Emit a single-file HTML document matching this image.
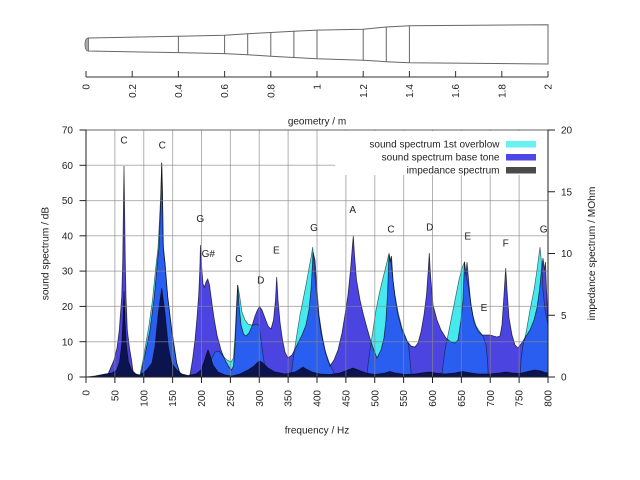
<!DOCTYPE html>
<html><head><meta charset="utf-8"><style>
html,body{margin:0;padding:0;background:#fff;}
svg{display:block;font-family:"Liberation Sans",Arial,sans-serif;}
</style></head><body>
<svg width="640" height="480" viewBox="0 0 640 480" xmlns="http://www.w3.org/2000/svg">
<rect width="640" height="480" fill="#fff"/>
<!-- geometry -->
<path d="M88,38 L178.4,36.2 L224.6,35.3 L247.7,33.7 L270.8,32.5 L293.9,31.3 L317,30.1 L363.2,29.2 L386.3,27 L409.4,25.7 L548,24.7 L548,64 L409.4,62.7 L386.3,61.7 L363.2,60.2 L317,58.8 L293.9,57.5 L270.8,56.2 L247.7,54.8 L224.6,53.6 L178.4,52.6 L88,51 Z" fill="#fff" stroke="#666" stroke-width="1"/>
<path d="M88.5,38 L86.5,38.8 Q85,40.5 85,44.5 Q85,48.5 86.5,50.2 L88.5,51 Z" fill="#aaa" stroke="#666" stroke-width="0.8"/>
<g stroke="#666" stroke-width="1">
<line x1="178.4" y1="36.2" x2="178.4" y2="52.6"/><line x1="224.6" y1="35.3" x2="224.6" y2="53.6"/>
<line x1="247.7" y1="33.7" x2="247.7" y2="54.8"/><line x1="270.8" y1="32.5" x2="270.8" y2="56.2"/>
<line x1="293.9" y1="31.3" x2="293.9" y2="57.5"/><line x1="317" y1="30.1" x2="317" y2="58.8"/>
<line x1="363.2" y1="29.2" x2="363.2" y2="60.2"/><line x1="386.3" y1="27" x2="386.3" y2="61.7"/>
<line x1="409.4" y1="25.7" x2="409.4" y2="62.7"/>
</g>
<g stroke="#333" stroke-width="1">
<line x1="86" y1="77" x2="548" y2="77"/>
<line x1="86" y1="71" x2="86" y2="77"/><line x1="132.2" y1="71" x2="132.2" y2="77"/><line x1="178.4" y1="71" x2="178.4" y2="77"/><line x1="224.6" y1="71" x2="224.6" y2="77"/><line x1="270.8" y1="71" x2="270.8" y2="77"/><line x1="317" y1="71" x2="317" y2="77"/><line x1="363.2" y1="71" x2="363.2" y2="77"/><line x1="409.4" y1="71" x2="409.4" y2="77"/><line x1="455.6" y1="71" x2="455.6" y2="77"/><line x1="501.8" y1="71" x2="501.8" y2="77"/><line x1="548" y1="71" x2="548" y2="77"/>
</g>
<g font-size="10" fill="#222" text-anchor="end">
<text transform="translate(89.6,84) rotate(-90)">0</text>
<text transform="translate(135.8,84) rotate(-90)">0.2</text>
<text transform="translate(182,84) rotate(-90)">0.4</text>
<text transform="translate(228.2,84) rotate(-90)">0.6</text>
<text transform="translate(274.4,84) rotate(-90)">0.8</text>
<text transform="translate(320.6,84) rotate(-90)">1</text>
<text transform="translate(366.8,84) rotate(-90)">1.2</text>
<text transform="translate(413,84) rotate(-90)">1.4</text>
<text transform="translate(459.2,84) rotate(-90)">1.6</text>
<text transform="translate(505.4,84) rotate(-90)">1.8</text>
<text transform="translate(551.6,84) rotate(-90)">2</text>
</g>
<text x="317" y="124.6" font-size="10" fill="#222" text-anchor="middle">geometry / m</text>

<defs>
<path id="Bd" d="M86,377 L108,377 L108.3,373.3 L114,360 L117,348 L119.3,330 L121.7,297 L122.7,263 L124,166 L125.3,263 L126,297 L127.3,330 L129.5,348 L131.5,360 L133.3,373.3 L134,377 L140,377 L141.5,372 L143.3,363 L150,330 L154.3,296.7 L157.3,263.3 L159,246.7 L161,195 L161.7,162.5 L162.5,195 L163.3,246.7 L165,263.3 L167.7,296.7 L171.7,330 L176.7,363 L179.5,372 L181.5,377 L189.5,377 L190.5,372 L192.5,360 L195,340 L197,318 L198.7,295 L199.8,270 L200.5,245 L201.5,265 L203,284 L204.5,287 L206,282 L207.7,279 L209.5,285 L211.5,300 L214,318 L217,335 L221,350 L225,360 L229,367 L231.5,370 L233.5,366 L235,345 L236.5,315 L237.7,285 L239,305 L241,325 L243.5,334 L246,336 L249,333 L252,326 L255,316 L257,311 L259.5,306.5 L262,310 L265,318 L268,326 L271,329 L273.5,320 L275.5,300 L276.7,277 L278,300 L280,322 L282.5,340 L285,352 L288,358 L292,355 L297,345 L302,335 L306,325 L309,310 L311,290 L312.5,265 L313,252 L315,260 L317,290 L319,315 L322,335 L326,355 L330,366 L334,360 L338,350 L342,333 L345,315 L348,295 L350.5,270 L352.5,245 L353.3,236 L354.5,255 L356.5,280 L360,300 L363.5,315 L367,328 L371,342 L375,353 L377,358 L381,350 L384,338 L386,320 L387.5,295 L389,255 L390.3,262 L391.5,256 L393,280 L395,297 L398,315 L402,330 L407,341 L411,346 L415,347 L418,343 L421,332 L424,315 L426.5,295 L428.3,270 L429.3,253 L430.5,275 L433,305 L437,320 L441,330 L446,338 L451,342 L455,343 L458,340 L461,320 L463,300 L464.5,262 L466,275 L467,262 L469,285 L471,305 L474,322 L478,331 L482,335 L490,335 L497,337 L500,336 L502,325 L504,295 L505.7,268 L507,290 L509,318 L512,335 L515,345 L518,348 L521,344 L525,338 L530,330 L534,320 L537,308 L539.5,290 L541.5,270 L543,258 L544.5,270 L545.5,262 L546.5,290 L548,325 L548,377 Z"/>
<path id="Od" d="M139.5,377 L141,370 L143,360 L149,325 L152.5,300 L155.5,270 L158,248 L160.5,200 L161.7,163 L162.5,195 L163.3,246.7 L165,263.3 L167.7,296.7 L171.7,330 L176.7,363 L179.5,372 L181.5,377 Z
M204,377 L207,371 L211,360 L215,352 L219,351 L223,356 L227,360 L231,362 L233.5,358 L235,335 L236.5,305 L237.7,285 L239.5,295 L242,312 L245,320 L248,324 L251,325 L254,325 L257,324 L259,326 L261,340 L263,355 L265,368 L267,377 Z
M291,377 L293,360 L296,340 L300,315 L303,300 L306,285 L309,268 L311.5,255 L312.7,247 L314,262 L316,290 L318,312 L321,333 L325,350 L329,362 L333,371 L336,377 Z
M366.7,377 L368,365 L370,350 L373,330 L376,310 L379,295 L382,282 L385,270 L387.5,260 L389,253 L391,262 L393,280 L395,295 L398,312 L402,328 L406,338 L408.5,345 L410,360 L411.5,377 Z
M441.7,377 L443,365 L445,350 L447,340 L451,320 L455,300 L459,280 L462,268 L464.5,262 L466,275 L468,285 L470,298 L473,316 L476,326 L480,332 L483,336 L486,345 L487.5,360 L488.3,377 Z
M520,377 L521,360 L523,345 L526,333 L530,310 L534,290 L537,270 L540,247 L541.5,262 L543,290 L545,310 L548,326 L548,377 Z"/>
<clipPath id="cb"><path d="M86,377 L108,377 L108.3,373.3 L114,360 L117,348 L119.3,330 L121.7,297 L122.7,263 L124,166 L125.3,263 L126,297 L127.3,330 L129.5,348 L131.5,360 L133.3,373.3 L134,377 L140,377 L141.5,372 L143.3,363 L150,330 L154.3,296.7 L157.3,263.3 L159,246.7 L161,195 L161.7,162.5 L162.5,195 L163.3,246.7 L165,263.3 L167.7,296.7 L171.7,330 L176.7,363 L179.5,372 L181.5,377 L189.5,377 L190.5,372 L192.5,360 L195,340 L197,318 L198.7,295 L199.8,270 L200.5,245 L201.5,265 L203,284 L204.5,287 L206,282 L207.7,279 L209.5,285 L211.5,300 L214,318 L217,335 L221,350 L225,360 L229,367 L231.5,370 L233.5,366 L235,345 L236.5,315 L237.7,285 L239,305 L241,325 L243.5,334 L246,336 L249,333 L252,326 L255,316 L257,311 L259.5,306.5 L262,310 L265,318 L268,326 L271,329 L273.5,320 L275.5,300 L276.7,277 L278,300 L280,322 L282.5,340 L285,352 L288,358 L292,355 L297,345 L302,335 L306,325 L309,310 L311,290 L312.5,265 L313,252 L315,260 L317,290 L319,315 L322,335 L326,355 L330,366 L334,360 L338,350 L342,333 L345,315 L348,295 L350.5,270 L352.5,245 L353.3,236 L354.5,255 L356.5,280 L360,300 L363.5,315 L367,328 L371,342 L375,353 L377,358 L381,350 L384,338 L386,320 L387.5,295 L389,255 L390.3,262 L391.5,256 L393,280 L395,297 L398,315 L402,330 L407,341 L411,346 L415,347 L418,343 L421,332 L424,315 L426.5,295 L428.3,270 L429.3,253 L430.5,275 L433,305 L437,320 L441,330 L446,338 L451,342 L455,343 L458,340 L461,320 L463,300 L464.5,262 L466,275 L467,262 L469,285 L471,305 L474,322 L478,331 L482,335 L490,335 L497,337 L500,336 L502,325 L504,295 L505.7,268 L507,290 L509,318 L512,335 L515,345 L518,348 L521,344 L525,338 L530,330 L534,320 L537,308 L539.5,290 L541.5,270 L543,258 L544.5,270 L545.5,262 L546.5,290 L548,325 L548,377 Z"/></clipPath>
</defs>

<!-- base tone (violet) -->
<use href="#Bd" fill="#4c44e0"/>
<!-- overblow (cyan) -->
<use href="#Od" fill="#44eaee"/>
<!-- overlap (blue) -->
<g clip-path="url(#cb)"><use href="#Od" fill="#2a5ef0"/></g>
<!-- outlines -->
<use href="#Bd" fill="none" stroke="#000" stroke-opacity="0.7" stroke-width="0.8"/>
<use href="#Od" fill="none" stroke="#000" stroke-opacity="0.6" stroke-width="0.7"/>

<!-- impedance (dark) -->
<path d="M86,377 L95,376 L105,374 L112,373 L116.7,370 L119.5,362 L121.7,345 L123,320 L124,291 L125,320 L126.3,345 L128.5,362 L131.7,370 L136,374 L140,375 L146.7,370 L152,363 L155,346.7 L158.3,313 L161.7,288 L165,313 L168.3,346.7 L171.5,363 L176.7,370 L182,374 L188,375.5 L196,374 L201,370 L204,362 L206.5,354 L208,350 L210,355 L213,365 L218,372 L225,375 L232,376 L240,374 L248,370 L254,366 L258,362 L260,361 L263,363 L268,368 L275,372 L285,374 L295,372 L300,369 L303,367 L306,369 L312,372 L320,374 L330,374.5 L340,373 L348,370 L353,368 L358,370 L366,373 L375,374.5 L385,373 L390,371.5 L395,373 L405,374.5 L415,374 L425,372.5 L430,372 L435,373 L445,374 L455,373 L462,371.5 L468,372.5 L478,374 L490,374 L500,373 L506,372 L512,373 L520,373.5 L528,371.5 L535,370 L541,371 L545,372.5 L548,373 L548,377 Z" fill="#0c1450" stroke="#000" stroke-opacity="0.7" stroke-width="0.7"/>

<!-- grid -->
<g stroke="#888" stroke-opacity="0.65" stroke-width="1">
<line x1="114.875" y1="130" x2="114.875" y2="377"/><line x1="143.75" y1="130" x2="143.75" y2="377"/><line x1="172.625" y1="130" x2="172.625" y2="377"/><line x1="201.5" y1="130" x2="201.5" y2="377"/><line x1="230.375" y1="130" x2="230.375" y2="377"/><line x1="259.25" y1="130" x2="259.25" y2="377"/><line x1="288.125" y1="130" x2="288.125" y2="377"/><line x1="317" y1="130" x2="317" y2="377"/><line x1="345.875" y1="130" x2="345.875" y2="377"/><line x1="374.75" y1="130" x2="374.75" y2="377"/><line x1="403.625" y1="130" x2="403.625" y2="377"/><line x1="432.5" y1="130" x2="432.5" y2="377"/><line x1="461.375" y1="130" x2="461.375" y2="377"/><line x1="490.25" y1="130" x2="490.25" y2="377"/><line x1="519.125" y1="130" x2="519.125" y2="377"/>
<line x1="86" y1="341.7" x2="548" y2="341.7"/><line x1="86" y1="306.4" x2="548" y2="306.4"/><line x1="86" y1="271.1" x2="548" y2="271.1"/><line x1="86" y1="235.8" x2="548" y2="235.8"/><line x1="86" y1="200.6" x2="548" y2="200.6"/><line x1="86" y1="165.3" x2="548" y2="165.3"/>
</g>
<line x1="86" y1="130" x2="548" y2="130" stroke="#666" stroke-width="1"/>

<!-- legend -->
<rect x="335" y="131" width="212.5" height="44" fill="#fff"/>
<g font-size="10" fill="#222" text-anchor="end">
<text x="499.5" y="147.6">sound spectrum 1st overblow</text>
<text x="499.5" y="160.6">sound spectrum base tone</text>
<text x="499.5" y="173.6">impedance spectrum</text>
</g>
<rect x="506" y="141" width="30" height="6.5" fill="#66f2f2"/>
<rect x="506" y="154" width="30" height="6.5" fill="#4f46e6"/>
<rect x="506" y="167" width="30" height="6.5" fill="#4a4a4a"/>

<!-- note labels -->
<g font-size="10" fill="#222" text-anchor="middle">
<text x="124" y="143.6">C</text>
<text x="162.3" y="148.3">C</text>
<text x="200.3" y="221.9">G</text>
<text x="208.3" y="256.9">G#</text>
<text x="238.7" y="261.9">C</text>
<text x="276.3" y="253.6">E</text>
<text x="260.7" y="283.6">D</text>
<text x="314" y="230.9">G</text>
<text x="352.7" y="212.9">A</text>
<text x="391" y="232.3">C</text>
<text x="429.7" y="230.6">D</text>
<text x="467.7" y="239.3">E</text>
<text x="505.7" y="246.3">F</text>
<text x="543.7" y="232.3">G</text>
<text x="484" y="310.9">E</text>
</g>

<!-- axes -->
<g stroke="#222" stroke-width="1">
<line x1="86" y1="130" x2="86" y2="377"/>
<line x1="548" y1="130" x2="548" y2="377"/>
<line x1="86" y1="377" x2="548" y2="377"/>
<line x1="79.5" y1="377" x2="86" y2="377"/><line x1="79.5" y1="341.7" x2="86" y2="341.7"/><line x1="79.5" y1="306.4" x2="86" y2="306.4"/><line x1="79.5" y1="271.1" x2="86" y2="271.1"/><line x1="79.5" y1="235.8" x2="86" y2="235.8"/><line x1="79.5" y1="200.6" x2="86" y2="200.6"/><line x1="79.5" y1="165.3" x2="86" y2="165.3"/><line x1="79.5" y1="130" x2="86" y2="130"/>
<line x1="548" y1="377" x2="555" y2="377"/><line x1="548" y1="315.25" x2="555" y2="315.25"/><line x1="548" y1="253.5" x2="555" y2="253.5"/><line x1="548" y1="191.75" x2="555" y2="191.75"/><line x1="548" y1="130" x2="555" y2="130"/>
<line x1="86" y1="377" x2="86" y2="383"/><line x1="114.875" y1="377" x2="114.875" y2="383"/><line x1="143.75" y1="377" x2="143.75" y2="383"/><line x1="172.625" y1="377" x2="172.625" y2="383"/><line x1="201.5" y1="377" x2="201.5" y2="383"/><line x1="230.375" y1="377" x2="230.375" y2="383"/><line x1="259.25" y1="377" x2="259.25" y2="383"/><line x1="288.125" y1="377" x2="288.125" y2="383"/><line x1="317" y1="377" x2="317" y2="383"/><line x1="345.875" y1="377" x2="345.875" y2="383"/><line x1="374.75" y1="377" x2="374.75" y2="383"/><line x1="403.625" y1="377" x2="403.625" y2="383"/><line x1="432.5" y1="377" x2="432.5" y2="383"/><line x1="461.375" y1="377" x2="461.375" y2="383"/><line x1="490.25" y1="377" x2="490.25" y2="383"/><line x1="519.125" y1="377" x2="519.125" y2="383"/><line x1="548" y1="377" x2="548" y2="383"/>
</g>
<g font-size="10" fill="#222" text-anchor="end">
<text x="73" y="380.6">0</text><text x="73" y="345.3">10</text><text x="73" y="310">20</text><text x="73" y="274.7">30</text><text x="73" y="239.4">40</text><text x="73" y="204.2">50</text><text x="73" y="168.9">60</text><text x="73" y="133.6">70</text>
</g>
<g font-size="10" fill="#222" text-anchor="start">
<text x="561" y="380.6">0</text><text x="561" y="318.85">5</text><text x="561" y="257.1">10</text><text x="561" y="195.35">15</text><text x="561" y="133.6">20</text>
</g>
<g font-size="10" fill="#222" text-anchor="end">
<text transform="translate(89.6,390) rotate(-90)">0</text>
<text transform="translate(118.475,390) rotate(-90)">50</text>
<text transform="translate(147.35,390) rotate(-90)">100</text>
<text transform="translate(176.225,390) rotate(-90)">150</text>
<text transform="translate(205.1,390) rotate(-90)">200</text>
<text transform="translate(233.975,390) rotate(-90)">250</text>
<text transform="translate(262.85,390) rotate(-90)">300</text>
<text transform="translate(291.725,390) rotate(-90)">350</text>
<text transform="translate(320.6,390) rotate(-90)">400</text>
<text transform="translate(349.475,390) rotate(-90)">450</text>
<text transform="translate(378.35,390) rotate(-90)">500</text>
<text transform="translate(407.225,390) rotate(-90)">550</text>
<text transform="translate(436.1,390) rotate(-90)">600</text>
<text transform="translate(464.975,390) rotate(-90)">650</text>
<text transform="translate(493.85,390) rotate(-90)">700</text>
<text transform="translate(522.725,390) rotate(-90)">750</text>
<text transform="translate(551.6,390) rotate(-90)">800</text>
</g>
<text x="317" y="433.5" font-size="10" fill="#222" text-anchor="middle">frequency / Hz</text>
<text transform="translate(48.5,253.5) rotate(-90)" font-size="10.2" fill="#222" text-anchor="middle">sound spectrum / dB</text>
<text transform="translate(595,253.5) rotate(-90)" font-size="10.2" fill="#222" text-anchor="middle">impedance spectrum / MOhm</text>
</svg>
</body></html>
